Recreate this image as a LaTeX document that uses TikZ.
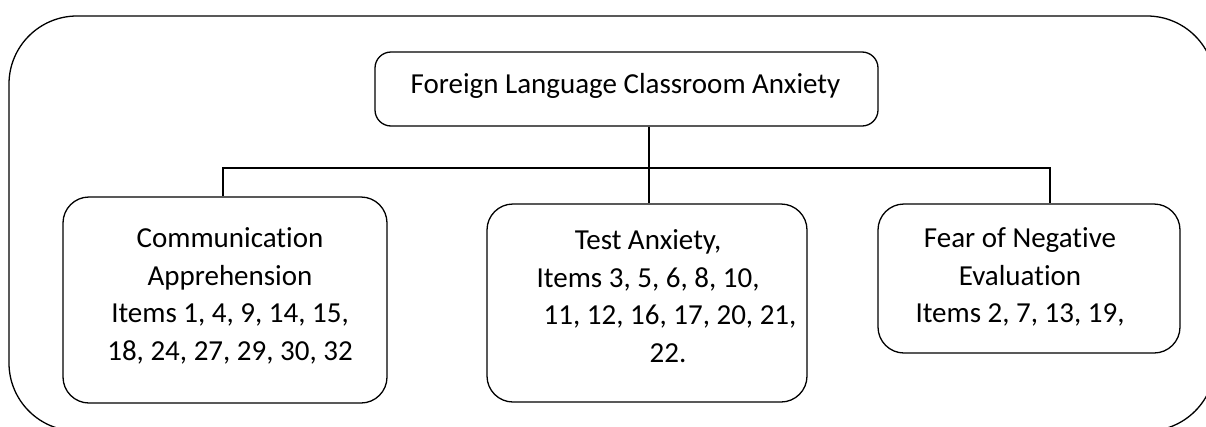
\documentclass[tikz,border=0pt]{standalone}
\usepackage{fontspec}
\setmainfont[RawFeature={-liga}]{Carlito}
\begin{document}
\begin{tikzpicture}[x=1pt,y=-1pt,
  box/.style={draw=black,line width=1.3pt,rounded corners=#1},
  box/.default=26pt,
  conn/.style={draw=black,line width=2pt},
  txt/.style={align=center,inner sep=0pt,font=\fontsize{29}{37.5}\selectfont}]
\useasboundingbox (0,0) rectangle (1206,426);
\clip (0,0) rectangle (1206,426);
\draw[line width=1.3pt,rounded corners=68pt] (9,16) rectangle (1215,431);
% top box
\node[box=16pt,minimum width=503pt,minimum height=74pt,inner sep=0pt] (top) at (626.5,89) {};
\node[txt] (toptxt) at (625.5,86) {Foreign Language Classroom Anxiety};
% children
\node[box,minimum width=324pt,minimum height=206pt,inner sep=0pt] (ca) at (225,300) {};
\node[box,minimum width=320pt,minimum height=198pt,inner sep=0pt] (ta) at (647,303) {};
\node[box,minimum width=302pt,minimum height=149pt,inner sep=0pt] (fn) at (1029,278.5) {};
\node[txt] (catxt) at (230,296) {Communication\\Apprehension\\Items 1, 4, 9, 14, 15,\\18, 24, 27, 29, 30, 32};
\node[txt] (tatxt) at (648,296) {Test Anxiety,\\Items 3, 5, 6, 8, 10,\\\hspace*{44pt}11, 12, 16, 17, 20, 21,\\\hspace*{40pt}22.};
\node[txt] (fntxt) at (1020,277) {Fear of Negative\\Evaluation\\Items 2, 7, 13, 19,};
% connectors
\coordinate (bar) at (649,168);
\draw[conn] (top.south -| bar) -- (ta.north -| bar);
\draw[conn] (223,0 |- ca.north) -- (223,168) -- (1050,168) -- (1050,0 |- fn.north);
\end{tikzpicture}
\end{document}
